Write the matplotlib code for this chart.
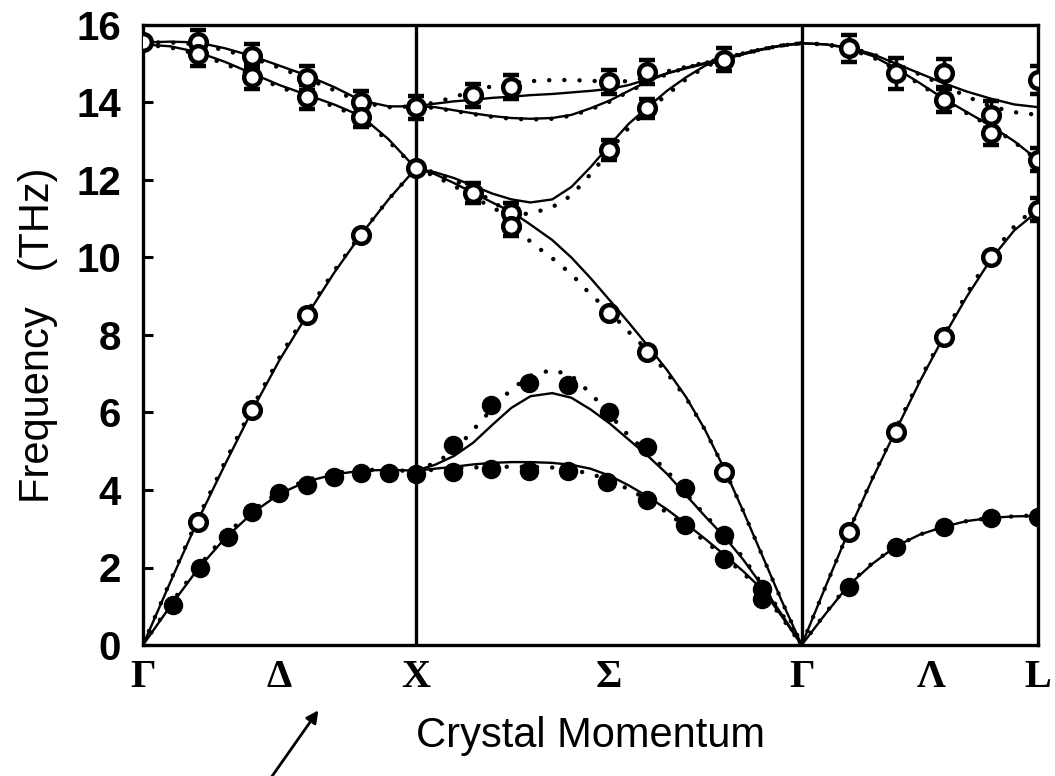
import matplotlib
matplotlib.use('Agg')
import matplotlib.pyplot as plt

plt.rcParams['font.family'] = ['Liberation Sans', 'DejaVu Sans']

# high-symmetry points along the path (units of 2*pi/a)
sym_pos = [0.0, 0.5, 1.0, 1.707, 2.414, 2.89, 3.28]
sym_labels = ['Γ', 'Δ', 'X', 'Σ', 'Γ', 'Λ', 'L']

# ---- theory curves, Gamma -> X ----
k_gx = [0.0, 0.1, 0.2, 0.3, 0.4, 0.5, 0.6, 0.7, 0.8, 0.9, 1.0]
ta_gx = [0.0, 1.0, 1.95, 2.75, 3.4, 3.9, 4.22, 4.4, 4.5, 4.52, 4.5]
ta_gx_dot = [0.0, 1.05, 2.0, 2.82, 3.47, 3.95, 4.26, 4.44, 4.52, 4.52, 4.48]
la_gx = [0.0, 1.62, 3.2, 4.65, 6.05, 7.35, 8.5, 9.6, 10.6, 11.5, 12.3]
la_gx_dot = [0.0, 1.65, 3.25, 4.72, 6.12, 7.42, 8.58, 9.65, 10.62, 11.5, 12.3]
lo_gx = [15.5, 15.45, 15.3, 15.05, 14.75, 14.45, 14.2, 13.95, 13.65, 13.05, 12.3]
lo_gx_dot = [15.5, 15.42, 15.25, 15.0, 14.7, 14.4, 14.15, 13.9, 13.6, 13.0, 12.3]
to_gx = [15.55, 15.57, 15.55, 15.4, 15.2, 14.95, 14.7, 14.4, 14.05, 13.9, 13.9]
to_gx_dot = [15.55, 15.55, 15.5, 15.35, 15.15, 14.9, 14.62, 14.32, 14.0, 13.88, 13.9]

# ---- theory curves, X -> Gamma (Sigma) ----
k_xg = [1.0, 1.07, 1.14, 1.21, 1.28, 1.35, 1.42, 1.5, 1.57, 1.64, 1.71,
        1.78, 1.85, 1.92, 1.99, 2.06, 2.13, 2.2, 2.27, 2.34, 2.414]
ta1_xg = [4.5, 4.55, 4.6, 4.66, 4.7, 4.72, 4.72, 4.7, 4.65, 4.55, 4.37,
          4.12, 3.83, 3.5, 3.13, 2.74, 2.33, 1.9, 1.43, 0.75, 0.0]
ta1_xg_dot = [4.5, 4.52, 4.55, 4.58, 4.6, 4.6, 4.6, 4.58, 4.52, 4.42, 4.25,
              4.02, 3.75, 3.42, 3.05, 2.68, 2.28, 1.85, 1.38, 0.72, 0.0]
ta2_xg = [4.5, 4.65, 4.88, 5.22, 5.68, 6.12, 6.42, 6.5, 6.38, 6.08, 5.72,
          5.3, 4.88, 4.42, 3.87, 3.32, 2.8, 2.2, 1.52, 0.8, 0.0]
ta2_xg_dot = [4.5, 4.7, 5.0, 5.55, 6.1, 6.6, 6.95, 7.1, 6.95, 6.5, 5.95,
              5.4, 4.95, 4.5, 3.9, 3.35, 2.85, 2.25, 1.55, 0.82, 0.0]
la_xg = [12.3, 12.15, 11.92, 11.67, 11.42, 11.18, 10.85, 10.45, 10.0, 9.47, 8.9,
         8.32, 7.72, 7.1, 6.4, 5.55, 4.55, 3.45, 2.3, 1.15, 0.0]
la_xg_dot = [12.3, 12.1, 11.85, 11.55, 11.3, 11.0, 10.4, 9.98, 9.57, 9.05, 8.6,
             8.08, 7.6, 7.02, 6.38, 5.55, 4.55, 3.45, 2.3, 1.15, 0.0]
lo_xg = [12.3, 12.2, 12.05, 11.85, 11.65, 11.5, 11.42, 11.5, 11.82, 12.33, 12.9,
         13.45, 13.88, 14.3, 14.65, 14.95, 15.12, 15.25, 15.37, 15.47, 15.53]
lo_xg_dot = [12.3, 12.2, 12.0, 11.75, 11.45, 11.12, 11.13, 11.3, 11.6, 12.15, 12.75,
             13.35, 13.8, 14.2, 14.6, 14.92, 15.12, 15.25, 15.37, 15.47, 15.53]
to1_xg = [13.9, 13.97, 14.03, 14.07, 14.12, 14.15, 14.19, 14.22, 14.26, 14.3, 14.35,
          14.45, 14.6, 14.75, 14.88, 15.0, 15.12, 15.25, 15.37, 15.47, 15.53]
to1_xg_dot = [13.9, 14.0, 14.14, 14.3, 14.42, 14.5, 14.55, 14.58, 14.58, 14.56, 14.54,
              14.55, 14.65, 14.8, 14.92, 15.03, 15.14, 15.27, 15.38, 15.47, 15.53]
to2_xg = [13.9, 13.88, 13.8, 13.72, 13.65, 13.6, 13.58, 13.6, 13.68, 13.85, 14.05,
          14.3, 14.55, 14.75, 14.9, 15.02, 15.14, 15.27, 15.38, 15.47, 15.53]
to2_xg_dot = [13.9, 13.86, 13.78, 13.7, 13.63, 13.58, 13.56, 13.58, 13.66, 13.82, 14.02,
              14.28, 14.52, 14.73, 14.9, 15.02, 15.14, 15.27, 15.38, 15.47, 15.53]

# ---- theory curves, Gamma -> L ----
k_gl = [2.414, 2.501, 2.587, 2.674, 2.76, 2.847, 2.934, 3.02, 3.107, 3.193, 3.28]
ta_gl = [0.0, 0.8, 1.55, 2.1, 2.55, 2.85, 3.05, 3.2, 3.28, 3.32, 3.33]
ta_gl_dot = [0.0, 0.82, 1.58, 2.12, 2.55, 2.85, 3.06, 3.2, 3.28, 3.32, 3.35]
la_gl = [0.0, 1.5, 2.95, 4.3, 5.55, 6.8, 7.95, 9.0, 9.95, 10.7, 11.2]
la_gl_dot = [0.0, 1.5, 2.95, 4.32, 5.6, 6.85, 8.0, 9.08, 10.05, 10.8, 11.35]
lo_gl = [15.53, 15.5, 15.4, 15.2, 14.88, 14.5, 14.1, 13.75, 13.4, 13.0, 12.52]
lo_gl_dot = [15.53, 15.5, 15.38, 15.17, 14.85, 14.47, 14.07, 13.72, 13.38, 12.98, 12.5]
to_gl = [15.53, 15.5, 15.42, 15.25, 15.0, 14.75, 14.5, 14.28, 14.1, 13.95, 13.88]
to_gl_dot = [15.53, 15.5, 15.42, 15.25, 15.0, 14.72, 14.45, 14.15, 13.9, 13.75, 13.68]

# ---- measured points ----
# open circles with error bars (optic / upper branches)
open_err_k = [0.2, 0.2, 0.4, 0.4, 0.6, 0.6, 0.8, 0.8, 1.0,
              1.21, 1.35, 1.706, 1.846, 2.13, 1.846, 1.706, 1.21, 1.35, 1.35,
              2.587, 2.76, 2.934, 2.934, 3.107, 3.107, 3.28, 3.28, 3.28]
open_err_f = [15.56, 15.25, 15.2, 14.66, 14.63, 14.14, 14.0, 13.63, 13.88,
              14.19, 14.4, 14.53, 14.79, 15.1, 13.85, 12.77, 11.66, 11.15, 10.8,
              15.4, 14.76, 14.76, 14.06, 13.68, 13.21, 14.58, 12.52, 11.23]
open_err_e = [0.3, 0.3, 0.3, 0.3, 0.3, 0.3, 0.3, 0.25, 0.3,
              0.3, 0.3, 0.3, 0.3, 0.3, 0.25, 0.25, 0.25, 0.25, 0.25,
              0.35, 0.4, 0.35, 0.3, 0.35, 0.3, 0.35, 0.3, 0.3]
# open circles without error bars
open_k = [0.0, 0.2, 0.4, 0.6, 0.8, 1.0, 1.706, 1.846, 2.13, 2.587, 2.76, 2.934, 3.107]
open_f = [15.56, 3.17, 6.06, 8.52, 10.58, 12.3, 8.56, 7.56, 4.46, 2.92, 5.5, 7.95, 10.0]
# filled circles (transverse acoustic)
filled_k = [0.11, 0.21, 0.31, 0.4, 0.5, 0.6, 0.7, 0.8, 0.9, 1.0,
            1.136, 1.276, 1.415, 1.559, 1.699, 1.846, 1.985, 2.129, 2.268,
            1.136, 1.276, 1.415, 1.559, 1.706, 1.846, 1.985, 2.129, 2.268,
            2.587, 2.76, 2.934, 3.107, 3.28]
filled_f = [1.03, 2.0, 2.8, 3.43, 3.92, 4.13, 4.34, 4.43, 4.43, 4.42,
            4.46, 4.55, 4.5, 4.48, 4.2, 3.74, 3.1, 2.22, 1.2,
            5.16, 6.19, 6.76, 6.71, 6.0, 5.11, 4.05, 2.84, 1.45,
            1.5, 2.53, 3.05, 3.28, 3.31]

solid = [(k_gx, ta_gx), (k_gx, la_gx), (k_gx, lo_gx), (k_gx, to_gx),
         (k_xg, ta1_xg), (k_xg, ta2_xg), (k_xg, la_xg), (k_xg, lo_xg),
         (k_xg, to1_xg), (k_xg, to2_xg),
         (k_gl, ta_gl), (k_gl, la_gl), (k_gl, lo_gl), (k_gl, to_gl)]
dotted = [(k_gx, ta_gx_dot), (k_gx, la_gx_dot), (k_gx, lo_gx_dot), (k_gx, to_gx_dot),
          (k_xg, ta1_xg_dot), (k_xg, ta2_xg_dot), (k_xg, la_xg_dot), (k_xg, lo_xg_dot),
          (k_xg, to1_xg_dot), (k_xg, to2_xg_dot),
          (k_gl, ta_gl_dot), (k_gl, la_gl_dot), (k_gl, lo_gl_dot), (k_gl, to_gl_dot)]

fig = plt.figure(figsize=(10.55, 7.76), dpi=100)
ax = fig.add_axes([143 / 1055, 131 / 776, 895 / 1055, 620 / 776])

for k, f in solid:
    ax.plot(k, f, color='black', lw=1.7, zorder=2)
for k, f in dotted:
    ax.plot(k, f, color='black', lw=3.2, linestyle=(0, (0.01, 3.4)),
            dash_capstyle='round', zorder=2)

ax.axvline(1.0, color='black', lw=2.4, zorder=1)
ax.axvline(2.414, color='black', lw=2.4, zorder=1)

ax.errorbar(open_err_k, open_err_f, yerr=open_err_e, fmt='o', ms=12,
            mfc='white', mec='black', mew=3.2, ecolor='black', elinewidth=2.5,
            capsize=6, capthick=3.5, zorder=4)
ax.plot(open_k, open_f, 'o', ms=12, mfc='white', mec='black', mew=3.2, zorder=4)
ax.plot(filled_k, filled_f, 'o', ms=13, color='black', zorder=4)

ax.set_xlim(0, 3.28)
ax.set_ylim(0, 16)
ax.set_yticks(range(0, 17, 2))
ax.tick_params(axis='y', direction='in', length=7, width=2.2, pad=16, labelsize=29)
for lab in ax.get_yticklabels():
    lab.set_fontweight('bold')
ax.set_xticks(sym_pos)
ax.set_xticklabels(sym_labels, fontfamily=['Liberation Serif', 'DejaVu Serif'],
                   fontweight='bold', fontsize=29)
ax.tick_params(axis='x', length=0, pad=10)
for sp in ax.spines.values():
    sp.set_linewidth(2.4)

ax.set_xlabel('Crystal Momentum', fontsize=30)
ax.xaxis.set_label_coords(0.5, -0.115)
ax.set_ylabel('Frequency   (THz)', fontsize=30)
ax.yaxis.set_label_coords(-0.095, 0.5)

ax.annotate('', xy=(320 / 1055, 1 - 708 / 776), xycoords='figure fraction',
            xytext=(268 / 1055, 1 - 782 / 776), textcoords='figure fraction',
            arrowprops=dict(arrowstyle='-|>', color='black', lw=2, mutation_scale=18),
            annotation_clip=False)

fig.savefig('out.png', dpi=100)
